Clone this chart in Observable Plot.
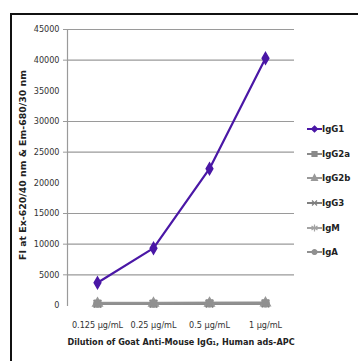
<!DOCTYPE html>
<html>
<head>
<meta charset="utf-8">
<script src="https://cdn.jsdelivr.net/npm/d3@7"></script>
<script src="https://cdn.jsdelivr.net/npm/@observablehq/plot@0.6"></script>
<style>
  html, body { margin: 0; padding: 0; background: #fff; }
  #wrap { position: relative; width: 358px; height: 361px; overflow: hidden; background: #fff; }
  #frame { position: absolute; left: 10px; top: 13px; width: 400px; height: 400px; border-top: 2px solid #111; border-left: 2px solid #111; box-sizing: border-box; }
  #chart { position: absolute; left: 0; top: 0; }
  #ytitle { position: absolute; left: 23px; top: 165px; width: 260px; height: 12px; margin-left: -130px; margin-top: -6px; text-align: center; transform: rotate(-90deg); font-family: "DejaVu Sans", sans-serif; font-weight: bold; font-size: 9.4px; line-height: 12px; color: #222; white-space: nowrap; }
  #legend { position: absolute; left: 307px; top: 0; font-family: "DejaVu Sans Condensed", "Liberation Sans Narrow", "Liberation Sans", Arial, sans-serif; font-weight: bold; font-size: 9.5px; color: #222; }
  .item { position: absolute; left: 0; height: 12px; width: 60px; white-space: nowrap; }
  .item svg { position: absolute; left: 0; top: 0; }
  .item span { position: absolute; left: 15px; top: -1px; }
</style>
</head>
<body>
<div id="wrap">
  <div id="chart"></div>
  <div id="frame"></div>
  <div id="ytitle"></div>
  <div id="legend"></div>
</div>
<script>
const categories = ["0.125 μg/mL", "0.25 μg/mL", "0.5 μg/mL", "1 μg/mL"];
const seriesNames = ["IgG1", "IgG2a", "IgG2b", "IgG3", "IgM", "IgA"];
const IgG1  = [3700, 9350, 22300, 40300];
const IgG2a = [300, 320, 340, 360];
const IgG2b = [350, 370, 380, 400];
const IgG3  = [280, 300, 310, 330];
const IgM   = [400, 410, 430, 450];
const IgA   = [320, 340, 360, 380];
const yTickValues = [0, 5000, 10000, 15000, 20000, 25000, 30000, 35000, 40000, 45000];
const yGridValues = [5000, 10000, 15000, 25000, 30000, 40000, 45000];
const colors = ["#4a17a6", "#8a8a8a", "#999999", "#7f7f7f", "#a3a3a3", "#909090"];
const symbols = ["diamond", "square", "triangle", "times", "asterisk", "circle"];
const xTitle = "Dilution of Goat Anti-Mouse IgG\u2081, Human ads-APC";
const yTitle = "FI at Ex-620/40 nm & Em-680/30 nm";

const allSeries = [IgG1, IgG2a, IgG2b, IgG3, IgM, IgA];
const rows = [];
allSeries.forEach((vals, si) => {
  vals.forEach((v, i) => rows.push({series: seriesNames[si], dose: categories[i], value: v}));
});
const grayRows = rows.filter(d => d.series !== "IgG1");
const purpleRows = rows.filter(d => d.series === "IgG1");

const narrow = "'DejaVu Sans Condensed', 'Liberation Sans Narrow', 'Liberation Sans', Arial, sans-serif";

const plot = Plot.plot({
  width: 358,
  height: 361,
  marginLeft: 67,
  marginRight: 64,
  marginTop: 29,
  marginBottom: 56,
  style: {fontFamily: narrow, fontSize: "9px", color: "#333", background: "transparent"},
  x: {type: "point", domain: categories, padding: 0.5},
  y: {domain: [0, 45000]},
  color: {domain: seriesNames, range: colors},
  symbol: {domain: seriesNames, range: symbols},
  marks: [
    Plot.gridY(yGridValues, {stroke: "#9a9a9a", strokeOpacity: 1, strokeWidth: 1.2}),
    Plot.axisY(yGridValues, {tickSize: 4, text: null, stroke: "#9a9a9a", label: null}),
    Plot.axisY(yTickValues, {tickSize: 0, tickPadding: 8, tickFormat: d => String(d), fill: "#333", label: null, fontSize: 9}),
    Plot.frame({anchor: "left", stroke: "#9a9a9a", strokeWidth: 1.2}),
    Plot.axisX({tickSize: 0, tickPadding: 16, label: null, fill: "#333", fontSize: 9}),
    Plot.line(grayRows, {x: "dose", y: "value", z: "series", stroke: "series", strokeWidth: 2.5}),
    Plot.dot(grayRows, {x: "dose", y: "value", symbol: "series", stroke: "series", fill: "series", r: 3.5}),
    Plot.line(purpleRows, {x: "dose", y: "value", stroke: "series", strokeWidth: 2.2}),
    Plot.dot(purpleRows, {x: "dose", y: "value", symbol: "series", fill: "series", stroke: "series", r: 3.5}),
    Plot.text([xTitle], {frameAnchor: "bottom", dy: 39, fontWeight: "bold", fontSize: 9, fill: "#222"})
  ]
});
document.getElementById("chart").appendChild(plot);
document.getElementById("ytitle").textContent = yTitle;

// Legend
const legend = document.getElementById("legend");
const legendTops = [129, 154, 178, 203, 228, 252];
const symbolPaths = {
  diamond: "M11,2 L14,5 L11,8 L8,5 Z",
  square: "M8.5,2.5 h5 v5 h-5 Z",
  triangle: "M11,1.5 L14,7.5 L8,7.5 Z",
  times: "M8.5,2.5 L13.5,7.5 M13.5,2.5 L8.5,7.5",
  asterisk: "M11,1.5 V8.5 M8,3 L14,7 M14,3 L8,7",
  circle: "M11,2.5 a2.5,2.5 0 1,0 0.01,0 Z"
};
seriesNames.forEach((name, i) => {
  const div = document.createElement("div");
  div.className = "item";
  div.style.top = (legendTops[i] - 5) + "px";
  const filled = symbols[i] !== "times" && symbols[i] !== "asterisk";
  div.innerHTML = `<svg width="16" height="10" viewBox="0 0 16 10">
    <line x1="0" y1="5" x2="15" y2="5" stroke="${colors[i]}" stroke-width="2"/>
    <path d="${symbolPaths[symbols[i]]}" transform="translate(-3.5,0)" fill="${filled ? colors[i] : "none"}" stroke="${colors[i]}" stroke-width="1.2"/>
  </svg><span>${name}</span>`;
  legend.appendChild(div);
});
</script>
</body>
</html>
